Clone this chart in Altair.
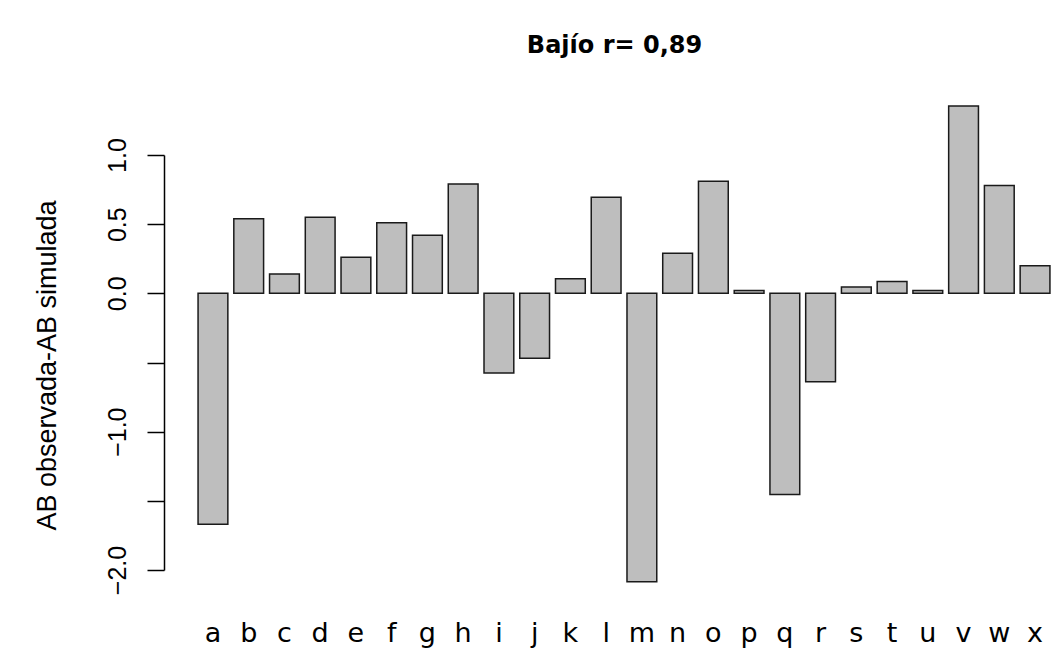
import altair as alt
import pandas as pd

categories = list("abcdefghijklmnopqrstuvwx")
values = [-1.67, 0.54, 0.14, 0.55, 0.26, 0.51, 0.42, 0.79, -0.575, -0.47, 0.105, 0.695,
          -2.085, 0.29, 0.81, 0.02, -1.455, -0.64, 0.045, 0.085, 0.02, 1.355, 0.78, 0.20]
y_ticks = [-2.0, -1.5, -1.0, -0.5, 0.0, 0.5, 1.0]

df = pd.DataFrame({"cat": categories, "val": values})

chart = alt.Chart(df).mark_bar(
    fill="#bebebe", stroke="#1a1a1a", strokeWidth=1.5, clip=True
).encode(
    x=alt.X("cat:N", sort=None, title=None,
            scale=alt.Scale(range=[0, 920], paddingInner=0.1667, paddingOuter=0.953),
            axis=alt.Axis(domain=False, ticks=False, tickSize=0, labelAngle=0,
                          labelFont="DejaVu Sans", labelFontSize=27, labelColor="black",
                          labelBaseline="alphabetic", labelPadding=41,
                          labelOverlap=False, grid=False)),
    y=alt.Y("val:Q", title="AB observada-AB simulada",
            scale=alt.Scale(domain=[-2, 1], range=[480, 65], nice=False, zero=False),
            axis=alt.Axis(values=y_ticks, format=".1f",
                          labelExpr="(datum.value == -0.5 || datum.value == -1.5) ? '' : datum.label",
                          grid=False, domainColor="black", domainWidth=1.5,
                          tickColor="black", tickWidth=1.5, tickSize=17,
                          labelAngle=270, labelAlign="center", labelBaseline="alphabetic",
                          labelPadding=22, labelFont="Liberation Sans", labelFontSize=25,
                          labelColor="black", labelOverlap=False,
                          titleFont="Liberation Sans", titleFontSize=27, titleFontWeight="normal",
                          titleColor="black", titleAngle=270, titleAlign="center",
                          titleBaseline="alphabetic", titleX=-109, titleY=275)),
).properties(
    width=887, height=510,
    title=alt.TitleParams("Bajío r= 0,89", font="DejaVu Sans", fontSize=24,
                          fontWeight="bold", color="black", anchor="middle",
                          frame="group", baseline="alphabetic", offset=13, dx=7),
    autosize=alt.AutoSizeParams(type="none"),
    padding={"left": 164, "top": 90, "right": 0, "bottom": 48},
    background="white",
).configure_view(stroke=None)

chart.save("out.html", embed_options={"renderer": "svg", "actions": False})
